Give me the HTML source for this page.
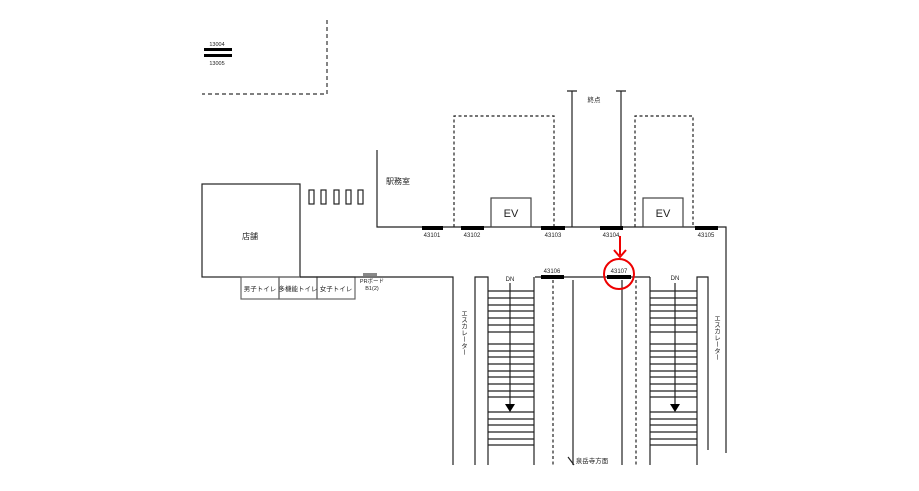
<!DOCTYPE html>
<html><head><meta charset="utf-8"><style>
body{margin:0;background:#fff}
svg{display:block}
text{font-family:"Liberation Sans","Noto Sans CJK JP",sans-serif;fill:#222}
</style></head><body>
<svg width="919" height="491" viewBox="0 0 919 491" xmlns="http://www.w3.org/2000/svg">
<g fill="none" stroke="#333" stroke-width="1.2">
<!-- top-left dashed -->
<path d="M327 20V94H202" stroke-dasharray="4 3"/>
</g>
<rect x="204" y="48" width="28" height="3" fill="#000"/>
<rect x="204" y="54" width="28" height="3" fill="#000"/>
<text x="217" y="46" font-size="5.5" text-anchor="middle">13004</text>
<text x="217" y="65" font-size="5.5" text-anchor="middle">13005</text>

<g fill="none" stroke="#222" stroke-width="1.2">
<rect x="202" y="184" width="98" height="93"/>
<rect x="309" y="190" width="5" height="14"/>
<rect x="321" y="190" width="5" height="14"/>
<rect x="334" y="190" width="5" height="14"/>
<rect x="346" y="190" width="5" height="14"/>
<rect x="358" y="190" width="5" height="14"/>
<rect x="241" y="277" width="38" height="22" stroke="#666"/>
<rect x="279" y="277" width="38" height="22" stroke="#666"/>
<rect x="317" y="277" width="38" height="22" stroke="#666"/>
<path d="M300 277H453V465"/>
<path d="M377 150V227H726V453"/>
<path d="M454 227V116H554V227" stroke-dasharray="3 2.5"/>
<path d="M635 227V116H693V227" stroke-dasharray="3 2.5"/>
<rect x="491" y="198" width="40" height="29" stroke="#444"/>
<rect x="643" y="198" width="40" height="29" stroke="#444"/>
<path d="M572 91V227M567 91H577M621 91V227M616 91H626"/>
<!-- lower -->
<path d="M535 277H650"/>
<path d="M475 465V277H488V465M534 277V465"/>
<path d="M650 277V465M697 465V277H708V450"/>
<path d="M573 280V465M622 280V465"/>
<path d="M553 280V465M636 280V465" stroke-dasharray="3 2.5"/>
<path d="M488 291H534M488 298H534M488 305H534M488 311H534M488 318H534M488 325H534M488 332H534M488 344H534M488 351H534M488 357H534M488 364H534M488 371H534M488 377H534M488 384H534M488 391H534M488 397H534M488 412H534M488 419H534M488 425H534M488 432H534M488 439H534M488 445H534"/>
<path d="M650 291H697M650 298H697M650 305H697M650 311H697M650 318H697M650 325H697M650 332H697M650 344H697M650 351H697M650 357H697M650 364H697M650 371H697M650 377H697M650 384H697M650 391H697M650 397H697M650 412H697M650 419H697M650 425H697M650 432H697M650 439H697M650 445H697"/>
<path d="M510 283V406M675 283V406"/>
<path d="M568 457L574 465"/>
</g>
<path d="M505 404H515L510 412Z" fill="#000"/>
<path d="M670 404H680L675 412Z" fill="#000"/>
<g fill="#000">
<rect x="422" y="226" width="21" height="4"/>
<rect x="461" y="226" width="23" height="4"/>
<rect x="541" y="226" width="24" height="4"/>
<rect x="600" y="226" width="23" height="4"/>
<rect x="695" y="226" width="23" height="4"/>
<rect x="541" y="275" width="23" height="4"/>
<rect x="607" y="275" width="24" height="4"/>
</g>
<rect x="363" y="273" width="14" height="3" fill="#888"/>
<g font-size="6" text-anchor="middle">
<text x="432" y="237">43101</text>
<text x="472" y="237">43102</text>
<text x="553" y="237">43103</text>
<text x="611" y="237">43104</text>
<text x="706" y="237">43105</text>
<text x="552" y="273">43106</text>
<text x="619" y="273">43107</text>
<text x="510" y="281">DN</text>
<text x="675" y="280">DN</text>
<text x="372" y="283" font-size="5.5">PRボード</text>
<text x="372" y="290" font-size="5.5">B1(2)</text>
</g>
<g font-size="6.5" text-anchor="middle">
<text x="260" y="291">男子トイレ</text>
<text x="298" y="291">多機能トイレ</text>
<text x="336" y="291">女子トイレ</text>
<text x="594" y="102">終点</text>
<text x="592" y="463">泉岳寺方面</text>
</g>
<text x="250" y="239" font-size="8" text-anchor="middle">店舗</text>
<text x="398" y="184" font-size="8" text-anchor="middle">駅務室</text>
<text x="511" y="217" font-size="11" text-anchor="middle">EV</text>
<text x="663" y="217" font-size="11" text-anchor="middle">EV</text>
<text x="463" y="310" font-size="6.5" writing-mode="tb" style="writing-mode:vertical-rl">エスカレーター</text>
<text x="716" y="315" font-size="6.5" writing-mode="tb" style="writing-mode:vertical-rl">エスカレーター</text>
<!-- red marker -->
<circle cx="619" cy="274" r="15" fill="none" stroke="#e00" stroke-width="2"/>
<path d="M620 236V255" stroke="#e00" stroke-width="2"/>
<path d="M614 250L620 257L626 250" fill="none" stroke="#e00" stroke-width="2"/>
</svg>
</body></html>
